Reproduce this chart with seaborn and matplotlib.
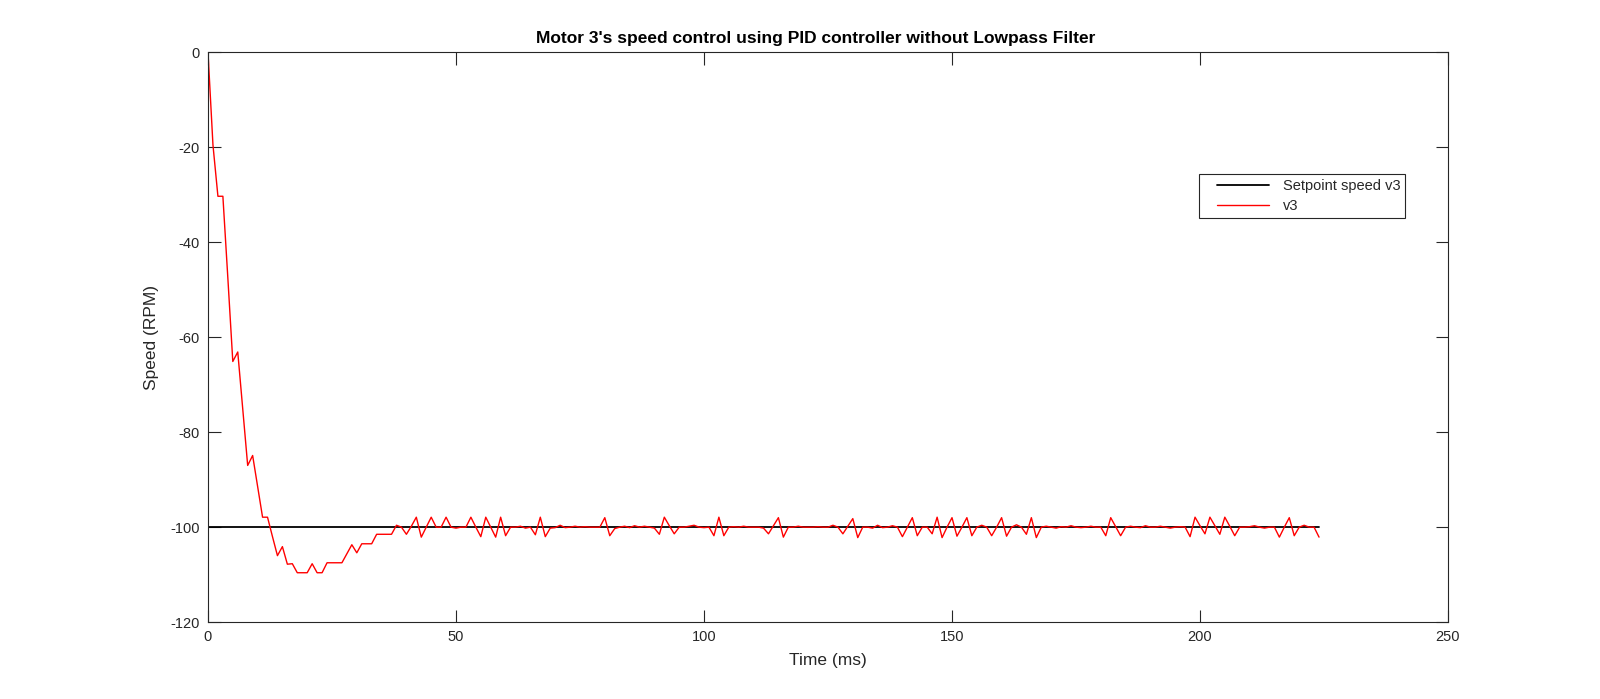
import numpy as np
import pandas as pd
import matplotlib
matplotlib.use('Agg')
import matplotlib.pyplot as plt
from matplotlib.lines import Line2D
from matplotlib.legend_handler import HandlerLine2D
import seaborn as sns

# speed of motor 3, one sample per ms
v3 = [
    0.0, -19.5, -30.3, -30.3, -47.5, -65.1, -63.1, -75.0, -87.0, -84.9,
    -91.4, -97.9, -97.9, -102.0, -106.0, -104.1, -107.8, -107.7, -109.6, -109.6,
    -109.6, -107.7, -109.6, -109.6, -107.5, -107.5, -107.5, -107.5, -105.6, -103.7,
    -105.4, -103.5, -103.5, -103.5, -101.5, -101.5, -101.5, -101.5, -99.6, -100.0,
    -101.5, -99.8, -97.9, -102.1, -100.0, -97.9, -100.0, -100.0, -97.9, -100.0,
    -100.2, -100.0, -100.0, -97.9, -100.0, -102.0, -97.9, -100.0, -102.1, -97.9,
    -101.8, -100.0, -100.0, -99.8, -100.2, -100.0, -101.6, -97.9, -102.0, -100.2,
    -100.1, -99.6, -100.1, -100.0, -99.8, -100.0, -99.9, -100.0, -100.0, -100.0,
    -98.0, -101.8, -100.3, -100.0, -99.8, -100.1, -99.7, -100.0, -99.8, -100.0,
    -100.2, -101.5, -97.9, -99.7, -101.4, -100.0, -100.0, -99.8, -99.6, -100.0,
    -100.1, -100.0, -101.8, -97.9, -101.8, -100.0, -99.9, -100.0, -99.8, -100.0,
    -100.0, -100.0, -100.2, -101.4, -99.7, -98.0, -102.1, -100.0, -100.0, -99.8,
    -100.0, -100.0, -100.0, -99.9, -100.0, -100.0, -99.6, -100.0, -101.4, -99.8,
    -98.2, -102.2, -100.0, -100.0, -100.2, -99.6, -100.1, -100.0, -99.7, -100.0,
    -102.0, -100.0, -98.0, -101.8, -100.0, -100.0, -101.4, -97.9, -102.2, -100.0,
    -98.0, -101.9, -100.0, -98.0, -101.8, -100.0, -99.6, -100.0, -101.8, -100.0,
    -98.0, -101.9, -100.0, -99.5, -100.0, -101.5, -98.0, -102.2, -100.0, -99.8,
    -100.0, -100.2, -99.9, -100.0, -99.7, -100.0, -100.1, -100.0, -99.8, -100.0,
    -100.0, -101.8, -98.0, -99.9, -101.8, -100.0, -99.8, -100.0, -100.1, -99.7,
    -100.0, -100.0, -99.8, -100.0, -100.2, -100.0, -99.9, -100.0, -102.0, -97.9,
    -99.7, -101.4, -97.9, -99.7, -101.5, -97.9, -99.8, -101.8, -100.0, -100.0,
    -99.9, -99.7, -100.0, -100.2, -100.0, -100.0, -102.1, -100.0, -98.0, -101.8,
    -100.0, -99.6, -100.0, -100.0, -102.1,
]
time_ms = np.arange(len(v3))
setpoint = [-100.0] * len(v3)

x_ticks = [0, 50, 100, 150, 200, 250]
y_ticks = [-120, -100, -80, -60, -40, -20, 0]

df = pd.DataFrame({'time': time_ms, 'v3': v3, 'setpoint': setpoint})

sns.set_style('ticks')
plt.rcParams['font.family'] = ['Liberation Sans', 'DejaVu Sans']
plt.rcParams['axes.unicode_minus'] = False

edge = '#262626'
fig = plt.figure(figsize=(16, 6.99), dpi=100)
ax = fig.add_axes([0.13, 0.11, 0.775, 0.815])

sns.lineplot(data=df, x='time', y='setpoint', ax=ax, color='black',
             linewidth=1.3, label='Setpoint speed v3')
sns.lineplot(data=df, x='time', y='v3', ax=ax, color='red',
             linewidth=1.0, label='v3')

ax.set_xlim(0, 250)
ax.set_ylim(-120, 0)
ax.set_xticks(x_ticks)
ax.set_yticks(y_ticks)
ax.set_xlabel('Time (ms)', fontsize=12.5, color=edge, labelpad=6)
ax.set_ylabel('Speed (RPM)', fontsize=12.5, color=edge, labelpad=8)
ax.set_title("Motor 3's speed control using PID controller without Lowpass Filter",
             fontsize=12.5, fontweight='bold', color='black', pad=7, x=0.49)

for side in ['top', 'right', 'bottom', 'left']:
    ax.spines[side].set_visible(True)
    ax.spines[side].set_color(edge)
    ax.spines[side].set_linewidth(0.8)
ax.tick_params(direction='in', top=True, right=True, length=9, width=0.8,
               color=edge, labelcolor=edge, labelsize=10.5, pad=6)

leg = ax.legend(loc='upper right', bbox_to_anchor=(0.965, 0.786), fontsize=10.5,
                frameon=True, fancybox=False, edgecolor=edge, framealpha=1,
                borderaxespad=0, handlelength=5.4, handletextpad=0.0,
                borderpad=0.3, labelspacing=0.45,
                handler_map={Line2D: HandlerLine2D(marker_pad=0.9, numpoints=2)})
leg.get_frame().set_linewidth(0.8)

fig.savefig('out.png', dpi=100, facecolor='white')
